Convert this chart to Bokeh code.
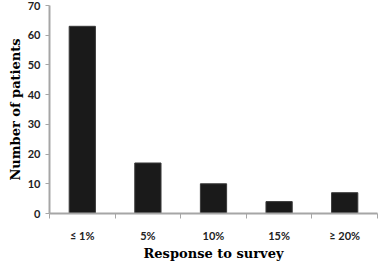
from bokeh.plotting import figure
from bokeh.models import FixedTicker, Range1d, ColumnDataSource
from bokeh.embed import file_html
from bokeh.resources import INLINE

categories = ["≤ 1%", "5%", "10%", "15%", "≥ 20%"]
patients = [63, 17, 10, 4, 7]
y_ticks = [0, 10, 20, 30, 40, 50, 60, 70]

centers = [i + 0.5 for i in range(len(categories))]
bounds = list(range(len(categories) + 1))

src = ColumnDataSource(data=dict(x=centers, top=patients, cat=categories))

p = figure(width=379, height=263, output_backend="svg", toolbar_location=None,
           x_range=Range1d(0, len(categories)), y_range=Range1d(0, 70),
           min_border_left=49, min_border_right=2, min_border_top=5, min_border_bottom=49)
p.outline_line_color = None
p.xgrid.visible = False
p.ygrid.visible = False
p.background_fill_color = "white"
p.border_fill_color = "white"

p.vbar(x="x", top="top", width=0.4, bottom=0, source=src,
       fill_color="#1a1a1a", line_color="#3a3a3a", line_width=1)

axis_col = "#a6a6a6"
lab_col = "#222222"

xa = p.xaxis[0]
xa.ticker = FixedTicker(ticks=centers, minor_ticks=bounds)
xa.major_label_overrides = {c: lab for c, lab in zip(centers, categories)}
xa.major_tick_out = 0
xa.major_tick_in = 0
xa.minor_tick_out = 5
xa.minor_tick_in = 0
xa.minor_tick_line_color = axis_col
xa.axis_line_color = axis_col
xa.axis_line_width = 2
xa.minor_tick_line_width = 1
xa.major_label_standoff = 10
xa.major_label_text_font = "Lato"
xa.major_label_text_font_style = "bold"
xa.major_label_text_font_size = "11px"
xa.major_label_text_color = lab_col
xa.axis_label = "Response to survey"
xa.axis_label_text_font = "DejaVu Serif"
xa.axis_label_text_font_style = "bold"
xa.axis_label_text_font_size = "13px"
xa.axis_label_text_color = "#000000"
xa.axis_label_standoff = 1

ya = p.yaxis[0]
ya.ticker = FixedTicker(ticks=y_ticks, minor_ticks=[])
ya.major_tick_out = 4
ya.major_tick_in = 0
ya.major_tick_line_color = axis_col
ya.axis_line_color = axis_col
ya.axis_line_width = 2
ya.major_label_standoff = 5
ya.major_label_text_font = "Lato"
ya.major_label_text_font_style = "bold"
ya.major_label_text_font_size = "11px"
ya.major_label_text_color = lab_col
ya.axis_label = "Number of patients"
ya.axis_label_text_font = "DejaVu Serif"
ya.axis_label_text_font_style = "bold"
ya.axis_label_text_font_size = "13px"
ya.axis_label_text_color = "#000000"
ya.axis_label_standoff = 2

open("out.html", "w").write(file_html(p, INLINE))
